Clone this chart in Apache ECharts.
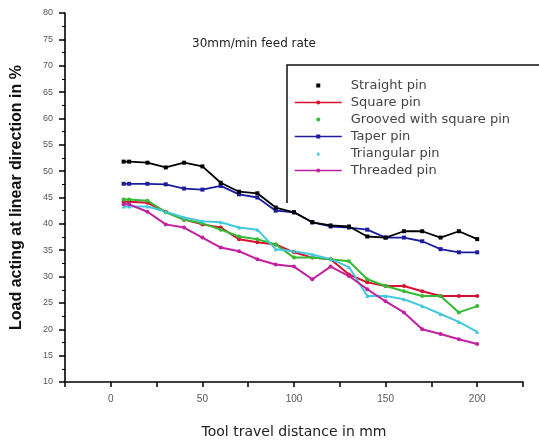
<!DOCTYPE html>
<html>
<head>
<meta charset="utf-8">
<script src="https://cdn.jsdelivr.net/npm/echarts@6/dist/echarts.min.js"></script>
<style>
html,body{margin:0;padding:0;background:#fff;}
#c{width:539px;height:444px;}
</style>
</head>
<body>
<div id="c"></div>
<script>
// Tool travel distance (mm)
var distance = [7, 10, 20, 30, 40, 50, 60, 70, 80, 90, 100, 110, 120, 130, 140, 150, 160, 170, 180, 190, 200];
// Load acting at linear direction (%)
var straightPin   = [51.8, 51.8, 51.6, 50.7, 51.6, 50.9, 47.8, 46.1, 45.8, 43.1, 42.2, 40.3, 39.7, 39.5, 37.6, 37.4, 38.6, 38.6, 37.4, 38.6, 37.1];
var squarePin     = [44.2, 44.2, 44.0, 42.3, 40.8, 39.9, 39.3, 37.1, 36.5, 36.1, 34.6, 33.6, 33.3, 30.4, 28.9, 28.2, 28.2, 27.2, 26.3, 26.3, 26.3];
var groovedPin    = [44.6, 44.6, 44.4, 42.2, 40.8, 40.1, 38.9, 37.6, 37.1, 36.1, 33.6, 33.6, 33.3, 32.9, 29.5, 28.2, 27.2, 26.3, 26.3, 23.2, 24.4];
var taperPin      = [47.6, 47.6, 47.6, 47.5, 46.7, 46.5, 47.2, 45.6, 45.0, 42.5, 42.2, 40.3, 39.5, 39.3, 38.9, 37.4, 37.4, 36.7, 35.2, 34.6, 34.6];
var triangularPin = [43.3, 43.3, 43.3, 42.3, 41.2, 40.5, 40.3, 39.3, 38.9, 35.2, 34.8, 34.2, 33.3, 31.8, 26.3, 26.3, 25.7, 24.4, 22.9, 21.4, 19.5];
var threadedPin   = [43.7, 43.7, 42.3, 39.9, 39.3, 37.4, 35.5, 34.8, 33.3, 32.3, 31.9, 29.5, 31.9, 30.1, 27.6, 25.3, 23.2, 20.0, 19.1, 18.1, 17.2];

var seriesNames = ['Straight pin', 'Square pin', 'Grooved with square pin', 'Taper pin', 'Triangular pin', 'Threaded pin'];
var seriesValues = [straightPin, squarePin, groovedPin, taperPin, triangularPin, threadedPin];
var seriesColors = ['#000000', '#d81030', '#33bb33', '#1c1c9c', '#44c8dc', '#c2209e'];
var seriesSymbols = ['rect', 'circle', 'circle', 'rect', 'triangle', 'circle'];
var showLegendLine = [false, true, false, true, false, true];

function pairs(vals) {
  return distance.map(function (d, i) { return [d, vals[i]]; });
}

var chart = echarts.init(document.getElementById('c'), null, {renderer: 'canvas'});

var series = seriesNames.map(function (n, i) {
  return {
    name: n,
    type: 'line',
    data: pairs(seriesValues[i]),
    symbol: seriesSymbols[i],
    symbolSize: 4,
    showSymbol: true,
    lineStyle: {color: seriesColors[i], width: i === 0 || i === 3 ? 1.8 : 2},
    itemStyle: {color: seriesColors[i]},
    z: i === 0 ? 5 : 3
  };
});

var option = {
  animation: false,
  backgroundColor: '#ffffff',
  title: {
    text: '30mm/min feed rate',
    left: 187, top: 33,
    textStyle: {fontFamily: 'DejaVu Sans', fontSize: 12, fontWeight: 'normal', color: '#222'}
  },
  grid: {left: 65, right: 16, top: 13, bottom: 60, containLabel: false},
  legend: {
    orient: 'vertical',
    left: 294, top: 79,
    itemWidth: 47, itemHeight: 5, itemGap: 4,
    padding: 0,
    textStyle: {fontFamily: 'DejaVu Sans', fontSize: 13, color: '#444', padding: [0, 0, 0, 4]},
    data: seriesNames.map(function (n, i) {
      return {
        name: n,
        lineStyle: showLegendLine[i] ? {width: 1.5} : {width: 0, opacity: 0}
      };
    })
  },
  graphic: [{
    type: 'polyline',
    shape: {points: [[287, 203], [287, 65], [545, 65]]},
    style: {stroke: '#111', lineWidth: 1.5, fill: null},
    silent: true
  }],
  xAxis: {
    type: 'value',
    min: -25, max: 225, interval: 25,
    name: 'Tool travel distance in mm',
    nameLocation: 'middle', nameGap: 43,
    nameTextStyle: {fontFamily: 'DejaVu Sans', fontSize: 14, color: '#222'},
    axisLine: {show: true, onZero: false, lineStyle: {color: '#000', width: 1.6}},
    axisTick: {show: true, length: 5, lineStyle: {color: '#000', width: 1.5}},
    axisLabel: {
      fontFamily: 'Liberation Sans', fontSize: 10, color: '#555', margin: 12,
      formatter: function (v) { return (v % 50 === 0 && v >= 0 && v <= 200) ? String(v) : ''; }
    },
    splitLine: {show: false}
  },
  yAxis: {
    type: 'value',
    min: 10, max: 80, interval: 5,
    name: 'Load acting at linear direction in %',
    nameLocation: 'middle', nameGap: 40,
    nameTextStyle: {fontFamily: 'Liberation Sans', fontSize: 16, fontWeight: 'bold', color: '#111'},
    axisLine: {show: true, onZero: false, lineStyle: {color: '#000', width: 1.6}},
    axisTick: {show: true, length: 6, lineStyle: {color: '#000', width: 1.5}},
    minorTick: {show: true, splitNumber: 2, length: 3, lineStyle: {color: '#000', width: 1}},
    axisLabel: {fontFamily: 'Liberation Sans', fontSize: 9, color: '#555', margin: 12},
    splitLine: {show: false}
  },
  series: series
};

chart.setOption(option);
</script>
</body>
</html>
